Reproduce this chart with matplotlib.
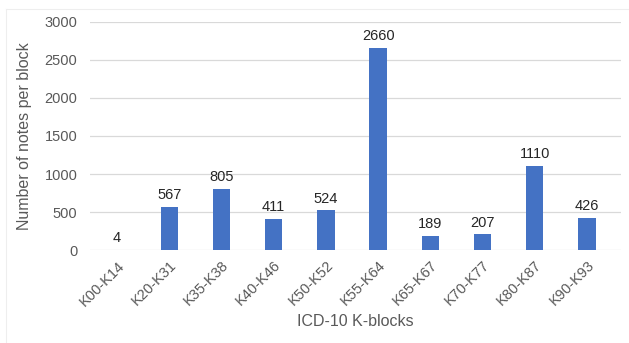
import matplotlib
matplotlib.use("Agg")
import matplotlib.pyplot as plt
from matplotlib.lines import Line2D

plt.rcParams['font.family'] = ['Liberation Sans', 'DejaVu Sans']

blocks = ["K00-K14", "K20-K31", "K35-K38", "K40-K46", "K50-K52",
          "K55-K64", "K65-K67", "K70-K77", "K80-K87", "K90-K93"]
notes = [4, 567, 805, 411, 524, 2660, 189, 207, 1110, 426]
yticks = [0, 500, 1000, 1500, 2000, 2500, 3000]

text_color = "#595959"
bar_color = "#4472C4"
grid_color = "#d9d9d9"

fig = plt.figure(figsize=(6.29, 3.43), dpi=100)
ax = fig.add_axes([0.143, 0.271, 0.844, 0.665])

x = list(range(len(blocks)))
bars = ax.bar(x, notes, width=0.33, color=bar_color, zorder=3)
for xi, v in zip(x, notes):
    ax.text(xi, v + 60, str(v), ha="center", va="bottom",
            fontsize=10.5, color="#262626")

ax.set_xlim(-0.52, len(blocks) - 0.35)
ax.set_ylim(0, 3000)
ax.set_yticks(yticks)
ax.set_yticklabels([str(t) for t in yticks], fontsize=10.5, color=text_color)
ax.set_xticks(x)
ax.set_xticklabels(blocks, rotation=45, ha="right", rotation_mode="anchor",
                   fontsize=10.5, color=text_color)
ax.tick_params(axis="both", length=0)
ax.tick_params(axis="y", pad=9)
ax.tick_params(axis="x", pad=6)
ax.grid(axis="y", color=grid_color, linewidth=0.9, zorder=0)
for s in ax.spines.values():
    s.set_visible(False)

ax.set_ylabel("Number of notes per block", fontsize=11.5, color=text_color,
              labelpad=9)
ax.set_xlabel("ICD-10 K-blocks", fontsize=11.5, color=text_color, labelpad=4)

# thin frame edges around the chart area
fig.add_artist(Line2D([6 / 629, 6 / 629], [1 - 9 / 343, 0.0],
                      transform=fig.transFigure, color="#eeeeee", lw=0.8))
fig.add_artist(Line2D([6 / 629, 1.0], [1 - 9 / 343, 1 - 9 / 343],
                      transform=fig.transFigure, color="#eeeeee", lw=0.8))

fig.savefig("out.png", dpi=100)
